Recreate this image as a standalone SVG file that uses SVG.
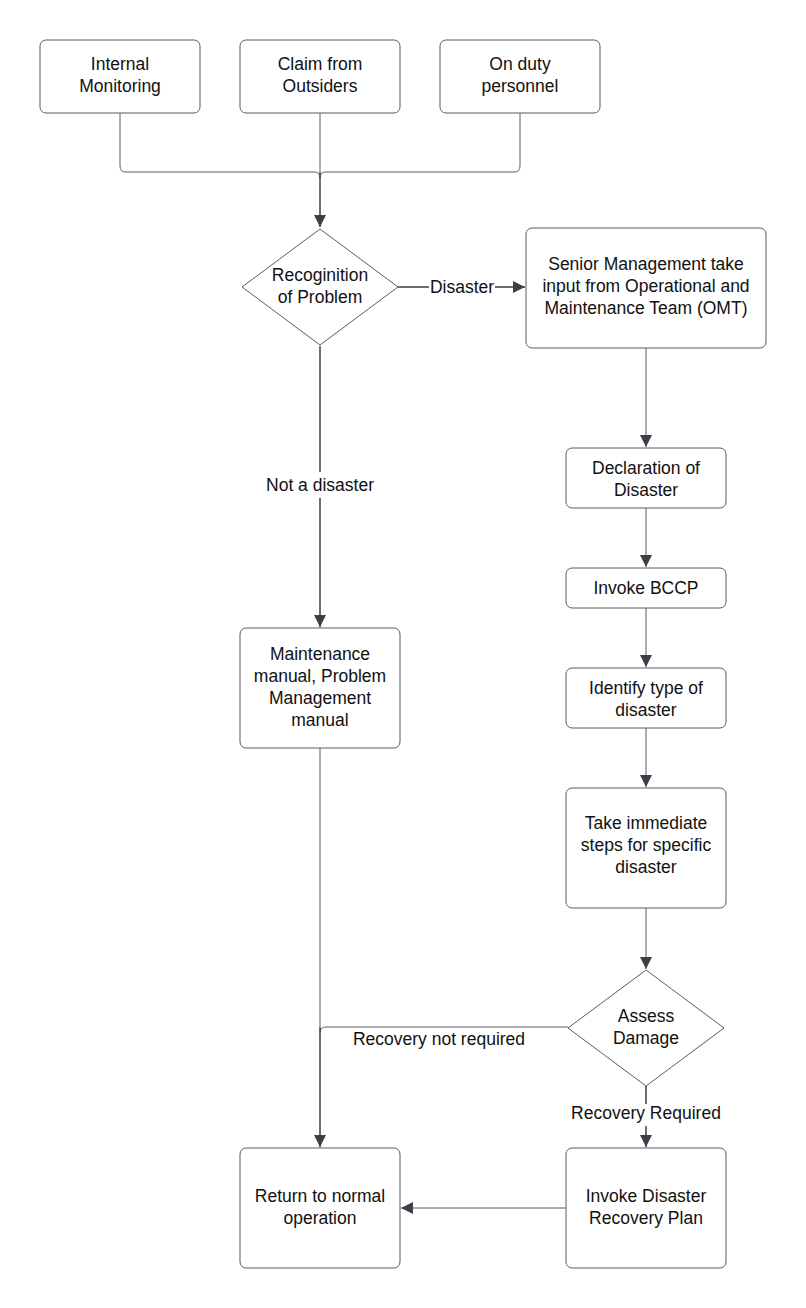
<svg xmlns="http://www.w3.org/2000/svg" width="806" height="1308" viewBox="0 0 806 1308">
<style>
.n{fill:#fff;stroke:#5a5d62;stroke-width:1}
.t{font-family:"Liberation Sans",Arial,sans-serif;font-size:17.5px;fill:#111;text-anchor:middle}
.c{fill:none;stroke:#3a3f48;stroke-width:1.5}
.ct{fill:none;stroke:#5a5d62;stroke-width:1}
.lb{font-family:"Liberation Sans",Arial,sans-serif;font-size:17.5px;fill:#111;text-anchor:middle}
</style>
<defs>
<marker id="ah" markerWidth="12" markerHeight="12" refX="10" refY="5" orient="auto" markerUnits="userSpaceOnUse" viewBox="0 0 10 10">
<path d="M0,0 L10,5 L0,10 z" fill="#3a3f48"/>
</marker>
</defs>
<rect width="806" height="1308" fill="#fff"/>
<g id="connectors">
<path class="ct" d="M120,113 V166 Q120,172 126,172 H314 Q320,172 320,178"/>
<path class="ct" d="M520,113 V166 Q520,172 514,172 H326 Q320,172 320,178"/>
<path class="ct" d="M320,113 V172"/>
<path class="c" d="M320,172 V227" marker-end="url(#ah)"/>
<path class="c" d="M398,287 H429"/>
<path class="c" d="M495,287 H525" marker-end="url(#ah)"/>
<text class="lb" x="462" y="293">Disaster</text>
<path class="c" d="M320,346 V472"/>
<path class="c" d="M320,498 V627" marker-end="url(#ah)"/>
<text class="lb" x="320" y="491">Not a disaster</text>
<path class="ct" d="M646,348 V447" marker-end="url(#ah)"/>
<path class="ct" d="M646,508 V567" marker-end="url(#ah)"/>
<path class="ct" d="M646,608 V667" marker-end="url(#ah)"/>
<path class="ct" d="M646,728 V787" marker-end="url(#ah)"/>
<path class="ct" d="M646,908 V969" marker-end="url(#ah)"/>
<path class="ct" d="M320,748 V1027"/>
<path class="ct" d="M568,1027 H326 Q320,1027 320,1033"/>
<path class="c" d="M320,1027 V1147" marker-end="url(#ah)"/>
<text class="lb" x="439" y="1045">Recovery not required</text>
<path class="c" d="M646,1086 V1104"/>
<path class="c" d="M646,1126 V1147" marker-end="url(#ah)"/>
<text class="lb" x="646" y="1119">Recovery Required</text>
<path class="ct" d="M566,1208 H401" marker-end="url(#ah)"/>
</g>
<g id="internal-monitoring">
<rect class="n" x="40" y="40" width="160" height="73" rx="6"/>
<text class="t" x="120" y="70">Internal</text>
<text class="t" x="120" y="92">Monitoring</text>
</g>
<g id="claim-outsiders">
<rect class="n" x="240" y="40" width="160" height="73" rx="6"/>
<text class="t" x="320" y="70">Claim from</text>
<text class="t" x="320" y="92">Outsiders</text>
</g>
<g id="on-duty">
<rect class="n" x="440" y="40" width="160" height="73" rx="6"/>
<text class="t" x="520" y="70">On duty</text>
<text class="t" x="520" y="92">personnel</text>
</g>
<g id="recognition">
<path class="n" d="M320,229 L398,287 L320,345 L242,287 Z" stroke-linejoin="round"/>
<text class="t" x="320" y="281">Recoginition</text>
<text class="t" x="320" y="303">of Problem</text>
</g>
<g id="senior-management">
<rect class="n" x="526" y="228" width="240" height="120" rx="6"/>
<text class="t" x="646" y="270">Senior Management take</text>
<text class="t" x="646" y="292">input from Operational and</text>
<text class="t" x="646" y="314">Maintenance Team (OMT)</text>
</g>
<g id="declaration">
<rect class="n" x="566" y="448" width="160" height="60" rx="6"/>
<text class="t" x="646" y="474">Declaration of</text>
<text class="t" x="646" y="496">Disaster</text>
</g>
<g id="invoke-bccp">
<rect class="n" x="566" y="568" width="160" height="40" rx="6"/>
<text class="t" x="646" y="594">Invoke BCCP</text>
</g>
<g id="identify-type">
<rect class="n" x="566" y="668" width="160" height="60" rx="6"/>
<text class="t" x="646" y="694">Identify type of</text>
<text class="t" x="646" y="716">disaster</text>
</g>
<g id="immediate-steps">
<rect class="n" x="566" y="788" width="160" height="120" rx="6"/>
<text class="t" x="646" y="829">Take immediate</text>
<text class="t" x="646" y="851">steps for specific</text>
<text class="t" x="646" y="873">disaster</text>
</g>
<g id="assess-damage">
<path class="n" d="M646,970 L724,1028 L646,1086 L568,1028 Z" stroke-linejoin="round"/>
<text class="t" x="646" y="1022">Assess</text>
<text class="t" x="646" y="1044">Damage</text>
</g>
<g id="maintenance-manual">
<rect class="n" x="240" y="628" width="160" height="120" rx="6"/>
<text class="t" x="320" y="660">Maintenance</text>
<text class="t" x="320" y="682">manual, Problem</text>
<text class="t" x="320" y="704">Management</text>
<text class="t" x="320" y="726">manual</text>
</g>
<g id="return-normal">
<rect class="n" x="240" y="1148" width="160" height="120" rx="6"/>
<text class="t" x="320" y="1202">Return to normal</text>
<text class="t" x="320" y="1224">operation</text>
</g>
<g id="invoke-drp">
<rect class="n" x="566" y="1148" width="160" height="120" rx="6"/>
<text class="t" x="646" y="1202">Invoke Disaster</text>
<text class="t" x="646" y="1224">Recovery Plan</text>
</g>
</svg>
